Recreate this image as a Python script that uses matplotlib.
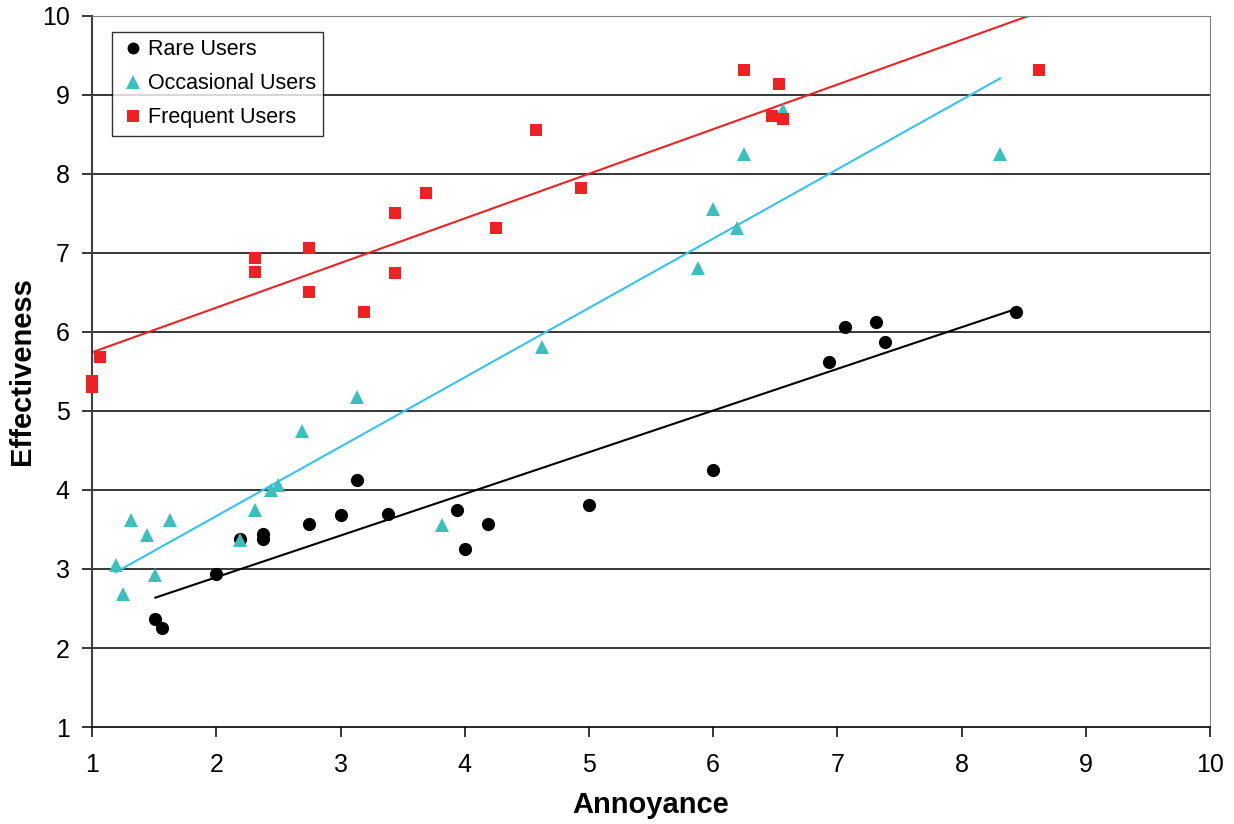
import matplotlib
matplotlib.use("Agg")
import matplotlib.pyplot as plt
import numpy as np

plt.rcParams['font.family'] = ['Liberation Sans', 'DejaVu Sans']

# Rare users (annoyance, effectiveness)
rare_x = [1.51, 1.56, 2.0, 2.19, 2.38, 2.38, 2.75, 3.0, 3.13, 3.38, 3.94, 4.0, 4.19,
          5.0, 6.0, 6.93, 7.06, 7.31, 7.38, 8.44]
rare_y = [2.37, 2.25, 2.94, 3.38, 3.44, 3.38, 3.57, 3.68, 4.13, 3.70, 3.75, 3.25, 3.57,
          3.81, 4.25, 5.62, 6.06, 6.13, 5.87, 6.25]

# Occasional users
occ_x = [1.19, 1.25, 1.31, 1.44, 1.51, 1.63, 2.19, 2.31, 2.44, 2.5, 2.69, 3.13, 3.82,
         4.62, 5.88, 6.0, 6.19, 6.25, 6.56, 8.31]
occ_y = [3.05, 2.68, 3.62, 3.43, 2.92, 3.62, 3.37, 3.75, 4.0, 4.06, 4.75, 5.18, 3.56,
         5.81, 6.81, 7.56, 7.32, 8.25, 8.81, 8.25]

# Frequent users
freq_x = [1.0, 1.0, 1.06, 2.31, 2.31, 2.75, 2.75, 3.19, 3.44, 3.44, 3.69, 4.25, 4.57,
          4.94, 6.25, 6.47, 6.53, 6.56, 8.62]
freq_y = [5.38, 5.30, 5.68, 6.94, 6.76, 7.06, 6.51, 6.25, 7.51, 6.75, 7.76, 7.32, 8.56,
          7.82, 9.32, 8.73, 9.14, 8.70, 9.32]

series = [
    ("Rare Users", rare_x, rare_y, "o", "black", "black", 9.5),
    ("Occasional Users", occ_x, occ_y, "^", "#3cbfbf", "#33c3ee", 10.5),
    ("Frequent Users", freq_x, freq_y, "s", "#ee2222", "#ee2222", 9),
]

fig = plt.figure(figsize=(12.34, 8.24), dpi=100)
ax = fig.add_axes([0.0746, 0.1177, 0.906, 0.863])

ax.set_xlim(1, 10)
ax.set_ylim(1, 10)
ax.set_xticks(range(1, 11))
ax.set_yticks(range(1, 11))

for yv in range(2, 11):
    ax.axhline(yv, color="black", lw=1.1, zorder=1)

for label, xs, ys, mk, col, lcol, ms in series:
    xs = np.array(xs)
    ys = np.array(ys)
    ax.plot(xs, ys, linestyle="none", marker=mk, color=col, markersize=ms,
            markeredgewidth=0, label=label, zorder=3, clip_on=False)
    # linear trendline over the data range
    k, b = np.polyfit(xs, ys, 1)
    tx = np.array([xs.min(), xs.max()])
    ax.plot(tx, k * tx + b, color=lcol, lw=1.5, zorder=2)

ax.spines["left"].set_color("#404040")
ax.spines["left"].set_linewidth(1.5)
ax.spines["bottom"].set_color("black")
ax.spines["bottom"].set_linewidth(1.2)
ax.spines["top"].set_color("#808080")
ax.spines["right"].set_color("#808080")

ax.tick_params(axis="both", direction="out", length=7, width=1.1,
               labelsize=18, color="black")
ax.tick_params(axis="x", pad=12)
ax.tick_params(axis="y", pad=9)

ax.set_xlabel("Annoyance", fontsize=21, fontweight="bold", labelpad=10)
ax.set_ylabel("Effectiveness", fontsize=21, fontweight="bold", labelpad=4)

leg = ax.legend(loc="upper left", bbox_to_anchor=(0.018, 0.9775), fontsize=15.5,
                frameon=True, fancybox=False, edgecolor="black",
                borderaxespad=0, handletextpad=0.1, handlelength=1.2,
                borderpad=0.35, labelspacing=0.6, markerscale=0.9)
leg.get_frame().set_linewidth(1.0)

fig.savefig("out.png", dpi=100)
